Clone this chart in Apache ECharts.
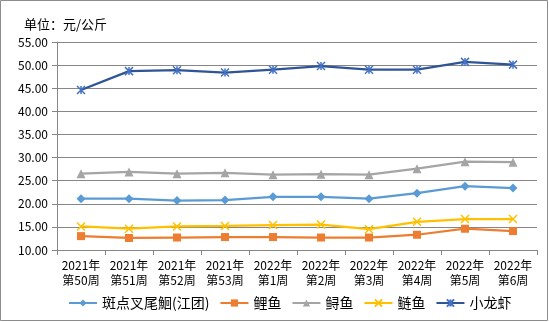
<!DOCTYPE html>
<html><head><meta charset="utf-8">
<script src="https://cdn.jsdelivr.net/npm/echarts@6/dist/echarts.min.js"></script>
<style>html,body{margin:0;padding:0;background:#fff}#c{width:549px;height:322px}</style>
</head><body><div id="c"></div>
<script>
const categories = ['2021年\n第50周','2021年\n第51周','2021年\n第52周','2021年\n第53周','2022年\n第1周','2022年\n第2周','2022年\n第3周','2022年\n第4周','2022年\n第5周','2022年\n第6周'];
const seriesNames = ['斑点叉尾鮰(江团)','鲤鱼','鲟鱼','鲢鱼','小龙虾'];
const channelCatfish = [21.1, 21.1, 20.7, 20.8, 21.5, 21.5, 21.1, 22.3, 23.8, 23.4];
const carp = [13.0, 12.6, 12.7, 12.8, 12.8, 12.7, 12.7, 13.3, 14.6, 14.1];
const sturgeon = [26.5, 26.9, 26.5, 26.7, 26.3, 26.4, 26.3, 27.6, 29.1, 29.0];
const silverCarp = [15.1, 14.6, 15.1, 15.2, 15.4, 15.5, 14.5, 16.1, 16.7, 16.7];
const crayfish = [44.6, 48.7, 48.9, 48.4, 49.0, 49.8, 49.0, 49.0, 50.7, 50.1];
const yTicks = {min: 10, max: 55, interval: 5};

const FONT = '"Noto Sans CJK SC", "Noto Sans", sans-serif';
const xPath = 'path://M0,0L10,10M10,0L0,10';
const starPath = 'path://M0,0L10,10M10,0L0,10M5,0L5,10';
function mk(name, data, lineColor, symbol, symColor, size, stroke) {
  return {
    name, type: 'line', data,
    symbol, symbolSize: size,
    lineStyle: {color: lineColor, width: 2.25},
    itemStyle: stroke ? {color: symColor, borderColor: symColor, borderWidth: 1.5} : {color: symColor, borderWidth: 0},
    emphasis: {disabled: true},
    animation: false
  };
}
const chart = echarts.init(document.getElementById('c'), null, {renderer: 'canvas'});
chart.setOption({
  backgroundColor: '#fff',
  animation: false,
  textStyle: {fontFamily: FONT},
  title: {text: '单位：元/公斤', left: 19, top: 13, textStyle: {fontSize: 13, fontWeight: 'normal', color: '#000', fontFamily: FONT}},
  grid: {left: 57, right: 12, top: 42, bottom: 72, containLabel: false},
  xAxis: {
    type: 'category', data: categories, boundaryGap: true,
    axisLine: {lineStyle: {color: '#868686', width: 1}},
    axisTick: {show: true, length: 5, lineStyle: {color: '#868686'}},
    axisLabel: {color: '#000', fontSize: 12, lineHeight: 15, margin: 8, interval: 0, fontFamily: FONT}
  },
  yAxis: {
    type: 'value', min: yTicks.min, max: yTicks.max, interval: yTicks.interval,
    axisLine: {show: true, lineStyle: {color: '#868686', width: 1}},
    axisTick: {show: true, length: 5, lineStyle: {color: '#868686'}},
    axisLabel: {color: '#000', fontSize: 12, margin: 9, formatter: v => v.toFixed(2), fontFamily: FONT},
    splitLine: {lineStyle: {color: '#868686', width: 1}}
  },
  legend: {
    data: seriesNames, bottom: 12, left: 68, padding: 0,
    itemWidth: 28, itemHeight: 9, itemGap: 10,
    textStyle: {fontSize: 14, color: '#000', fontFamily: FONT}
  },
  graphic: [{type: 'rect', shape: {x: 0.5, y: 0.5, width: 547, height: 320}, style: {fill: null, stroke: '#8c8c8c', lineWidth: 1}, silent: true}],
  series: [
    mk(seriesNames[0], channelCatfish, '#5B9BD5', 'diamond', '#5B9BD5', 9, false),
    mk(seriesNames[1], carp, '#ED7D31', 'rect', '#ED7D31', 8, false),
    mk(seriesNames[2], sturgeon, '#A5A5A5', 'triangle', '#A5A5A5', 9, false),
    mk(seriesNames[3], silverCarp, '#FFC000', xPath, '#FFC000', 8, true),
    mk(seriesNames[4], crayfish, '#2F5597', starPath, '#4472C4', 8, true)
  ]
});
</script></body></html>
